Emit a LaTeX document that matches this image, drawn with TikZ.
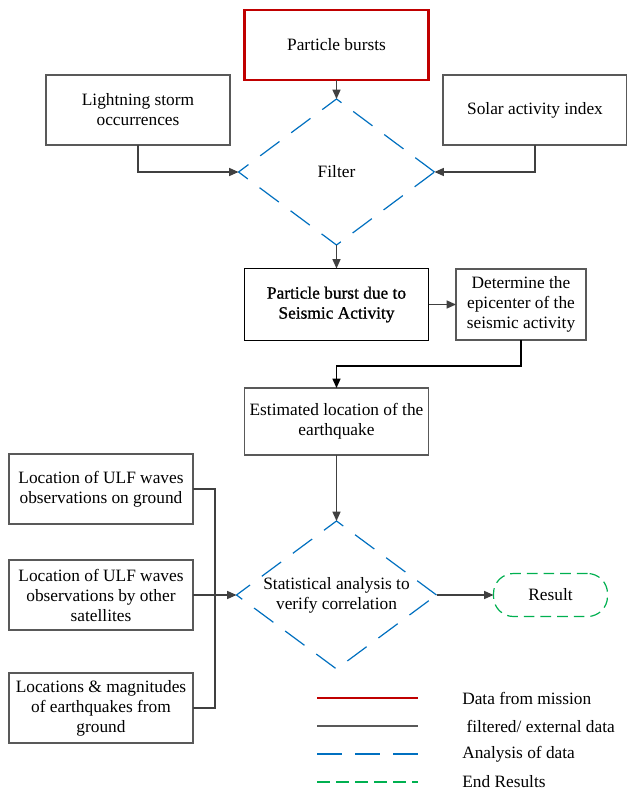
\documentclass[tikz,border=0pt]{standalone}
\usepackage{fontspec}
\setmainfont{Liberation Serif}
\newfontfamily\heavyserif[FakeBold=1]{Liberation Serif}
\usepackage{tikz}
\usetikzlibrary{shapes, arrows.meta}
\definecolor{mission}{RGB}{192,0,0}
\definecolor{analysis}{RGB}{0,112,192}
\definecolor{endres}{RGB}{0,176,80}
\definecolor{extern}{RGB}{89,89,89}
\definecolor{arrowgray}{RGB}{64,64,64}
\tikzset{box/.style={rectangle, draw=extern, line width=0.9pt, align=center, inner sep=2pt, outer sep=0pt, font=\fontsize{13}{15}\selectfont},
missionbox/.style={box, draw=mission, line width=1.6pt},
analysisdiamond/.style={diamond, aspect=1.35, draw=analysis, line width=0.9pt, dash pattern=on 18pt off 11pt, align=center, inner sep=0pt, outer sep=0pt, font=\fontsize{13}{15}\selectfont},
resultbox/.style={box, draw=endres, dash pattern=on 8pt off 4.5pt, rounded corners=15pt},
flow/.style={draw=arrowgray, line width=0.9pt, -{Triangle[length=7pt,width=6pt]}},
legendtext/.style={anchor=west, inner sep=0pt, font=\fontsize{13}{15}\selectfont}}
\begin{document}
\begin{tikzpicture}[x=0.75pt, y=-0.75pt]
\useasboundingbox[fill=white] (0,0) rectangle (627,792);
\node[missionbox, minimum width=138pt, minimum height=52.5pt] (burst) at (336.5,45) {Particle bursts};
\node[box, minimum width=138pt, minimum height=52.5pt] (light) at (138,110) {Lightning storm\\occurrences};
\node[box, minimum width=138pt, minimum height=52.5pt] (solar) at (535,110) {Solar activity index};
\node[analysisdiamond, minimum width=147pt, minimum height=109.5pt] (filter) at (336.5,172) {Filter};
\node[box, draw=black, line width=1.1pt, minimum width=138pt, minimum height=54pt] (seismic) at (336.5,304.5) {\heavyserif Particle burst due to\\\heavyserif Seismic Activity};
\node[box, minimum width=97.5pt, minimum height=53.25pt] (epic) at (521,304.5) {Determine the\\epicenter of the\\seismic activity};
\node[box, minimum width=138pt, minimum height=50.25pt] (estim) at (336.5,421.5) {Estimated location of the\\earthquake};
\node[analysisdiamond, minimum width=150pt, minimum height=111pt] (stats) at (336.5,595) {Statistical analysis to\\verify correlation};
\node[resultbox, minimum width=85.5pt, minimum height=32.25pt] (result) at (550.5,595) {Result};
\node[box, minimum width=138pt, minimum height=52.5pt] (ulfground) at (101,489) {Location of ULF waves\\observations on ground};
\node[box, minimum width=138pt, minimum height=52.5pt] (ulfsat) at (101,595) {Location of ULF waves\\observations by other\\satellites};
\node[box, minimum width=138pt, minimum height=52.5pt] (quakes) at (101,708) {Locations \& magnitudes\\of earthquakes from\\ground};

\draw[flow] (burst.south) -- (filter.north);
\draw[flow] (light.south) |- (filter.west);
\draw[flow] (solar.south) |- (filter.east);
\draw[flow] (filter.south) -- (seismic.north);
\draw[flow] (seismic.east) -- (epic.west);
\draw[flow, draw=black] (epic.south) -- ++(0,26) -| (estim.north);
\draw[flow] (estim.south) -- (stats.north);
\draw[draw=arrowgray, line width=0.9pt] (ulfground.east) -- ++(22,0) |- (quakes.east);
\draw[flow] (ulfsat.east) -- (stats.west);
\draw[flow] (stats.east) -- (result.west);

\coordinate (L1) at (317,698);
\coordinate (L2) at (317,726);
\coordinate (L3) at (317,754);
\coordinate (L4) at (317,782);
\draw[mission, line width=1.6pt] (L1) -- ++(101,0);
\draw[extern, line width=0.9pt] (L2) -- ++(101,0);
\draw[analysis, line width=0.9pt, dash pattern=on 18.75pt off 9.75pt] (L3) -- ++(101,0);
\draw[endres, line width=0.9pt, dash pattern=on 9.4pt off 4.9pt] (L4) -- ++(101,0);
\node[legendtext] (t1) at (462,698) {Data from mission};
\node[legendtext] (t2) at (462,726) {\ filtered/ external data};
\node[legendtext] (t3) at (462,754) {Analysis of data};
\node[legendtext] (t4) at (462,782) {End Results};
\end{tikzpicture}
\end{document}
